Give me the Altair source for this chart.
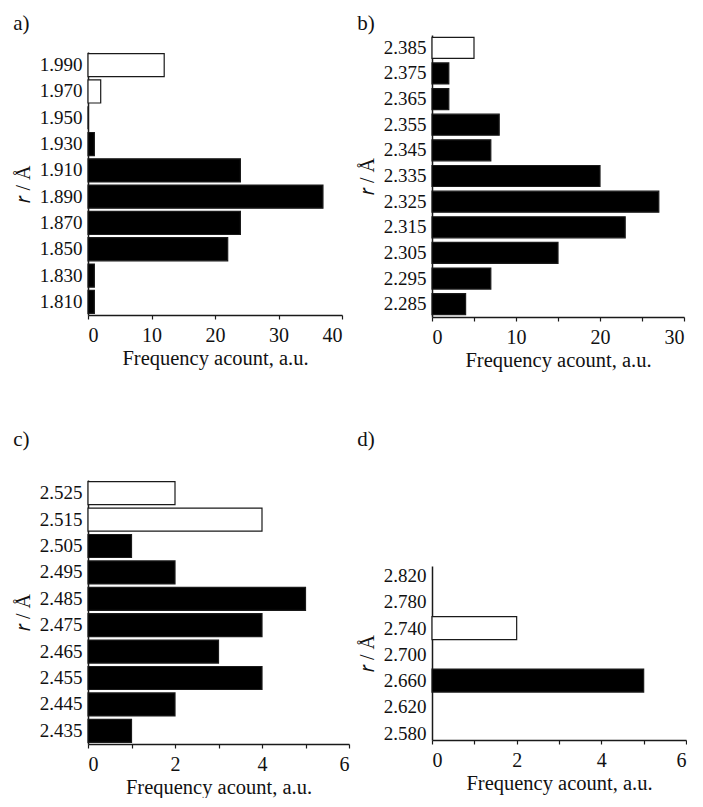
import altair as alt
import pandas as pd

# ---- data ----
a_r = ["1.810", "1.830", "1.850", "1.870", "1.890", "1.910", "1.930", "1.950", "1.970", "1.990"]
a_count = [1, 1, 22, 24, 37, 24, 1, 0, 2, 12]
a_open = [0, 0, 0, 0, 0, 0, 0, 0, 1, 1]

b_r = ["2.285", "2.295", "2.305", "2.315", "2.325", "2.335", "2.345", "2.355", "2.365", "2.375", "2.385"]
b_count = [4, 7, 15, 23, 27, 20, 7, 8, 2, 2, 5]
b_open = [0, 0, 0, 0, 0, 0, 0, 0, 0, 0, 1]

c_r = ["2.435", "2.445", "2.455", "2.465", "2.475", "2.485", "2.495", "2.505", "2.515", "2.525"]
c_count = [1, 2, 4, 3, 4, 5, 2, 1, 4, 2]
c_open = [0, 0, 0, 0, 0, 0, 0, 0, 1, 1]

d_r = [2.660, 2.740]
d_count = [5, 2]
d_open = [0, 1]
d_ticks = [2.580, 2.620, 2.660, 2.700, 2.740, 2.780, 2.820]

FONT = "Liberation Serif"
XTITLE = "Frequency acount, a.u."
YTITLE = "\U0001D45F / Å"


def frame(r, count, opn):
    return pd.DataFrame({
        "r": r,
        "count": count,
        "kind": ["open" if o else "filled" for o in opn],
    })


fill_enc = alt.Fill(
    "kind:N",
    scale=alt.Scale(domain=["filled", "open"], range=["#000000", "#ffffff"]),
    legend=None,
)


def x_enc(xmax, tick_vals, label_step):
    return alt.X(
        "count:Q",
        scale=alt.Scale(domain=[0, xmax], nice=False),
        axis=alt.Axis(
            values=tick_vals,
            labelExpr=f"datum.value % {label_step} == 0 ? datum.label : ''",
            title=XTITLE,
        ),
    )


def ptitle(label, off):
    return alt.TitleParams(label, anchor="start", frame="bounds", offset=off)


def band_panel(r, count, opn, title, width, height, top, xmax, tick_vals, label_step, pad):
    df = frame(r, count, opn)
    return (
        alt.Chart(df)
        .mark_bar(stroke="#1a1a1a", strokeWidth=1.2)
        .encode(
            x=x_enc(xmax, tick_vals, label_step),
            y=alt.Y(
                "r:N",
                sort="descending",
                scale=alt.Scale(paddingInner=pad, paddingOuter=pad / 2, range=[top, height]),
                axis=alt.Axis(title=YTITLE),
            ),
            fill=fill_enc,
        )
        .properties(width=width, height=height, title=title)
    )


pa = band_panel(a_r, a_count, a_open, ptitle("a)", 1), 254, 280, 17, 40, [0, 10, 20, 30, 40], 10, 0.12)
pb = band_panel(b_r, b_count, b_open, ptitle("b)", 1), 252, 282, 0, 30, [0, 5, 10, 15, 20, 25, 30], 10, 0.18)
pc = band_panel(c_r, c_count, c_open, ptitle("c)", 30), 261, 264, 0, 6, [0, 1, 2, 3, 4, 5, 6], 2, 0.13)

dfd = frame(d_r, d_count, d_open)
pd_ = (
    alt.Chart(dfd)
    .mark_bar(orient="horizontal", size=23, stroke="#1a1a1a", strokeWidth=1.2)
    .encode(
        x=x_enc(6, [0, 1, 2, 3, 4, 5, 6], 2),
        y=alt.Y(
            "r:Q",
            scale=alt.Scale(domain=[2.577, 2.827], nice=False, zero=False, range=[264, 90]),
            axis=alt.Axis(values=d_ticks, format=".3f", title=YTITLE),
        ),
        fill=fill_enc,
    )
    .properties(width=254, height=264, title=ptitle("d)", 26))
)

chart = (
    alt.concat(pa, pb, pc, pd_, columns=2, align="none",
               spacing=alt.RowColnumber(row=58, column=7))
    .configure_view(stroke=None)
    .configure_axis(
        grid=False,
        labelFont=FONT,
        titleFont=FONT,
        titleFontWeight="normal",
        labelColor="#111111",
        titleColor="#111111",
        domainColor="#1a1a1a",
        domainWidth=1.5,
        tickColor="#1a1a1a",
        tickWidth=1.2,
    )
    .configure_axisY(ticks=False, labelFontSize=19, titleFontSize=20, labelPadding=6, titlePadding=6)
    .configure_axisX(tickSize=4, labelFontSize=20, titleFontSize=20.5, labelPadding=6, titlePadding=3)
    .configure_title(font=FONT, fontSize=21, fontWeight="normal", color="#111111")
    .properties(padding={"left": 5, "top": 5, "right": 0, "bottom": 0})
)

chart.save("out.html", embed_options={"renderer": "svg", "actions": False})
